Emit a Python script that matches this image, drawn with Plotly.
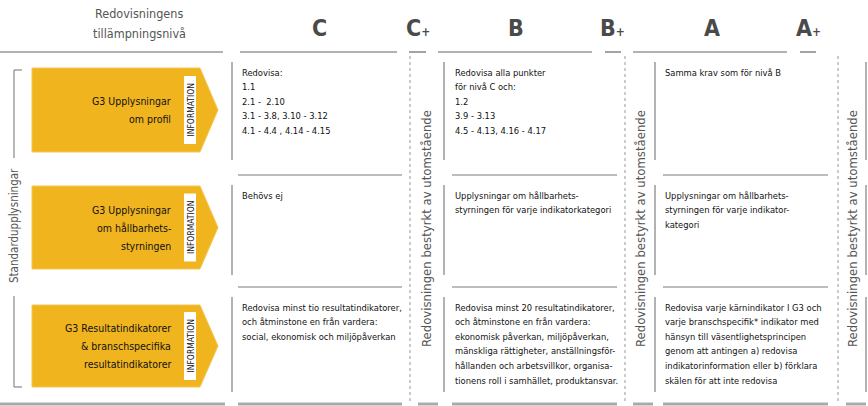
import plotly.graph_objects as go

# ---------------- data ----------------
header_title = ["Redovisningens", "tillämpningsnivå"]
levels = ["C", "B", "A"]
plus_levels = ["C", "B", "A"]
plus_text = "Redovisningen bestyrkt av utomstående"
side_label = "Standardupplysningar"
row_labels = [
    "G3 Upplysningar<br>om profil",
    "G3 Upplysningar<br>om hållbarhets-<br>styrningen",
    "G3 Resultatindikatorer<br>&amp; branschspecifika<br>resultatindikatorer",
]
tag_text = "INFORMATION"
cells_C = [
    "Redovisa:<br>1.1<br>2.1 -  2.10<br>3.1 - 3.8, 3.10 - 3.12<br>4.1 - 4.4 , 4.14 - 4.15",
    "Behövs ej",
    "Redovisa minst tio resultatindikatorer,<br>och åtminstone en från vardera:<br>social, ekonomisk och miljöpåverkan",
]
cells_B = [
    "Redovisa alla punkter<br>för nivå C och:<br>1.2<br>3.9 - 3.13<br>4.5 - 4.13, 4.16 - 4.17",
    "Upplysningar om hållbarhets-<br>styrningen för varje indikatorkategori",
    "Redovisa minst 20 resultatindikatorer,<br>och åtminstone en från vardera:<br>ekonomisk påverkan, miljöpåverkan,<br>mänskliga rättigheter, anställningsför-<br>hållanden och arbetsvillkor, organisa-<br>tionens roll i samhället, produktansvar.",
]
cells_A = [
    "Samma krav som för nivå B",
    "Upplysningar om hållbarhets-<br>styrningen för varje indikator-<br>kategori",
    "Redovisa varje kärnindikator I G3 och<br>varje branschspecifik* indikator med<br>hänsyn till väsentlighetsprincipen<br>genom att antingen a) redovisa<br>indikatorinformation eller b) förklara<br>skälen för att inte redovisa",
]
cells = [cells_C, cells_B, cells_A]

# ---------------- layout constants ----------------
W, H = 868, 406
FONT = "DejaVu Sans Condensed, Liberation Sans Narrow, sans-serif"
YELLOW = "#F0B41E"
GRAY = "#555555"
LINE = "#7a7a7a"

header_y = 52
row_tops = [52, 175, 287]
row_bottoms = [172, 287, 404]
arrow_tops = [68, 186, 305]
arrow_bots = [152, 269, 387]

col_left_line = [232, 444, 655]
col_text_x = [241, 454, 664]
col_sep_span = [(238, 402), (452, 617), (663, 828)]
dash_x = [410, 625, 838]
plus_text_x = [426, 640, 852]
right_line_x = 866
header_segments = [(0, 223), (240, 397), (409, 426), (438, 592), (605, 621), (633, 787), (800, 816)]
header_letter_x = [319, 516, 712]
plus_letter_x = [418, 612, 808]

shapes = []
annotations = []

def line(x0, y0, x1, y1, color=LINE, width=1, dash=None):
    d = dict(type="line", x0=x0, y0=y0, x1=x1, y1=y1, xref="x", yref="y",
             line=dict(color=color, width=width))
    if dash:
        d["line"]["dash"] = dash
    shapes.append(d)

def text(x, y, s, size=11, color="#111", xanchor="left", yanchor="middle", angle=0, align="left", bold=False):
    if bold:
        s = "<b>" + s + "</b>"
    annotations.append(dict(x=x, y=y, xref="x", yref="y", text=s, showarrow=False,
                            xanchor=xanchor, yanchor=yanchor, textangle=angle, align=align,
                            font=dict(family=FONT, size=size, color=color), borderpad=0))

def lines_block(x, y_first, s, spacing, **kw):
    for k, ln in enumerate(s.split("<br>")):
        text(x, y_first + k * spacing, ln, **kw)

# header
for k, ln in enumerate(header_title):
    text(139, 13 + k * 20, ln, size=12.5, color=GRAY, xanchor="center")
for x0, x1 in header_segments:
    line(x0, header_y, x1, header_y, color="#666666", width=1.2)
for lx, lv in zip(header_letter_x, levels):
    text(lx, 28, lv, size=23, color="#4a4a4a", xanchor="center", bold=True)
for px, pv in zip(plus_letter_x, plus_levels):
    text(px, 28, pv + "<span style='font-size:12px'>+</span>", size=23, color="#4a4a4a",
         xanchor="center", bold=True)

# side bracket
line(14, 70, 14, 158, color="#888", width=1.2)
line(14, 296, 14, 387, color="#888", width=1.2)
line(14, 70, 22, 70, color="#888", width=1.2)
line(14, 387, 22, 387, color="#888", width=1.2)
text(14, 226, side_label, size=11.5, color=GRAY, xanchor="center", angle=-90)
line(0, 404, 225, 404, color="#aaaaaa", width=3)

# arrows + labels
for i, lab in enumerate(row_labels):
    t, b = arrow_tops[i], arrow_bots[i]
    m = (t + b) / 2
    path = f"M 32 {t} L 200 {t} L 218 {m} L 200 {b} L 32 {b} Z"
    shapes.append(dict(type="path", path=path, xref="x", yref="y", fillcolor=YELLOW,
                       line=dict(color="#F4C752", width=1)))
    shapes.append(dict(type="rect", x0=184, x1=196, y0=m - 34, y1=m + 34, xref="x", yref="y",
                       fillcolor="white", line=dict(width=0)))
    text(190.5, m, tag_text, size=8.5, color="#111", xanchor="center", angle=-90)
    parts = lab.split("<br>")
    y0 = m - (len(parts) - 1) * 18 / 2
    lines_block(172, y0, lab, 18, size=10.5, color="#111", xanchor="right")

# grid of cells
for r in range(3):
    top, bot = row_tops[r], row_bottoms[r]
    for c in range(3):
        line(col_left_line[c], top + 10, col_left_line[c], bot - 12, color="#999", width=1.5)
        if r > 0:
            x0, x1 = col_sep_span[c]
            line(x0, top, x1, top, color=LINE, width=1)
        lines_block(col_text_x[c], top + 20, cells[c][r], 14.6, size=9.3, color="#111")
    line(right_line_x, top + 10, right_line_x, bot - 12, color="#999", width=1.5)

# bottom lines
for c in range(3):
    x0, x1 = col_sep_span[c]
    line(x0, 404, x1, 404, color="#aaaaaa", width=3)
for dx in dash_x:
    line(dx + 8, 404, dx + 28, 404, color="#aaaaaa", width=3)

# plus columns: dashed line and rotated text
for dx, tx in zip(dash_x, plus_text_x):
    line(dx, 56, dx, 402, color="#999", width=1, dash="3px,3px")
    text(tx, 229, plus_text, size=13, color=GRAY, xanchor="center", angle=-90)

fig = go.Figure()
fig.update_layout(
    width=W, height=H,
    margin=dict(l=0, r=0, t=0, b=0),
    paper_bgcolor="white", plot_bgcolor="white",
    xaxis=dict(range=[0, W], visible=False, fixedrange=True),
    yaxis=dict(range=[H, 0], visible=False, fixedrange=True),
    shapes=shapes, annotations=annotations, showlegend=False,
)
fig.write_html("out.html", config={"displayModeBar": False},
               post_script="document.body.style.margin='0';document.body.style.overflow='hidden';")
